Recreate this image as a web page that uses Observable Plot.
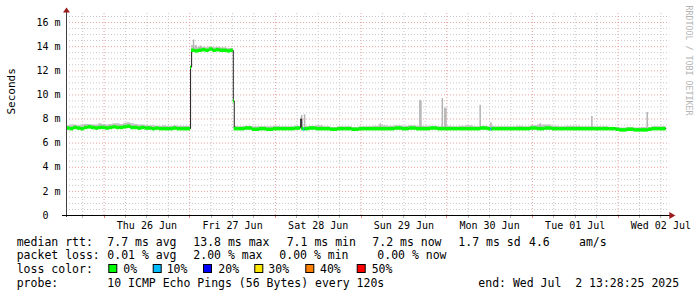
<!DOCTYPE html>
<html>
<head>
<meta charset="utf-8">
<script src="https://cdn.jsdelivr.net/npm/d3@7"></script>
<script src="https://cdn.jsdelivr.net/npm/@observablehq/plot@0.6"></script>
<style>
  html, body { margin: 0; padding: 0; background: #ffffff; }
  #chart svg { display: block; }
  #legend { display: block; }
</style>
</head>
<body>
<div id="chart"></div>
<script>
// ---------------- data ----------------
const startTime = "2025-06-25T13:28:25Z";
const endTime = "2025-07-02T13:28:25Z";
const gridEndTime = "2025-07-02T14:30:00Z";

// median RTT (ms) at hour offsets from start; value holds until next sample
const medHour = [0,1,2,3,4,5,6,7,8,9,10,11,12,13,14,15,16,17,18,19,20,21,22,23,24,25,26,27,28,29,30,31,32,33,
  34.76,35.05,36,37,38,39,40,41,42,43,44,45,46,46.73,47,48,50,52,54,56,58,60,62,64,65.6,65.9,66.5,66.8,
  68,70,72,74,76,78,80,82,84,86,88,90,92,94,96,98,100,102,104,106,108,110,112,114,116,118,118.9,119.2,
  120,122,124,126,128,130,132,134,136,138,140,142,144,146,148,150,152,154,155,157,159,161,163,164,166];
const medMs = [7.25,7.2,7.3,7.25,7.2,7.3,7.35,7.3,7.25,7.3,7.3,7.25,7.3,7.35,7.3,7.3,7.35,7.4,7.3,7.3,7.25,7.3,7.25,7.25,7.2,7.25,7.2,7.2,7.2,7.2,7.25,7.2,7.2,7.2,
  12.3,13.7,13.65,13.7,13.75,13.7,13.8,13.7,13.75,13.7,13.7,13.65,13.7,9.5,7.2,7.2,7.25,7.15,7.2,7.15,7.2,7.2,7.2,7.25,8.0,7.2,7.15,7.2,
  7.25,7.2,7.2,7.15,7.2,7.2,7.15,7.2,7.2,7.2,7.2,7.2,7.25,7.2,7.25,7.2,7.2,7.25,7.2,7.2,7.2,7.2,7.2,7.2,7.25,7.2,7.15,7.2,
  7.2,7.2,7.2,7.2,7.2,7.25,7.2,7.25,7.2,7.2,7.2,7.2,7.2,7.2,7.2,7.2,7.2,7.15,7.1,7.15,7.1,7.1,7.15,7.2,7.2];
// packet loss (%) per sample; null = no loss colour drawn
const medLoss = [0,0,0,0,0,0,0,0,0,0,0,0,0,0,0,0,0,0,0,0,0,0,0,0,0,0,0,0,0,0,0,0,0,0,
  0,0,0,0,0,0,0,0,0,0,0,0,0,0,0,0,0,0,0,0,0,0,0,0,null,0,10,0,
  0,0,0,0,0,0,0,0,0,0,0,0,0,0,0,0,0,0,0,0,0,0,0,0,0,0,10,0,
  0,0,0,0,0,0,0,0,0,0,0,0,0,0,0,0,0,0,0,0,0,0,0,0,0];
// top of the smoke (ms)
const smokeTop = [7.45,7.5,7.5,7.45,7.5,7.55,7.55,7.5,7.5,7.6,7.55,7.5,7.55,7.6,7.6,7.55,7.65,7.7,7.6,7.55,7.5,7.5,7.45,7.45,7.45,7.4,7.4,7.45,7.4,7.4,7.45,7.4,7.4,7.4,
  12.3,14.1,13.9,13.95,13.95,13.9,14.0,13.9,13.95,13.9,13.9,13.85,13.85,9.5,7.4,7.35,7.4,7.35,7.35,7.35,7.4,7.35,7.35,7.4,8.1,7.35,7.3,7.35,
  7.4,7.45,7.35,7.3,7.35,7.35,7.3,7.35,7.35,7.4,7.45,7.4,7.45,7.4,7.45,7.4,7.4,7.4,7.35,7.4,7.35,7.4,7.45,7.35,7.4,7.35,7.3,7.4,
  7.35,7.35,7.35,7.4,7.35,7.45,7.5,7.5,7.4,7.35,7.4,7.4,7.35,7.35,7.35,7.35,7.3,7.3,7.25,7.3,7.25,7.3,7.3,7.35,7.35];

// isolated smoke spikes
const spikeHour = [35.6,36.3,37.5,65.9,66.7,87.9,99.0,99.3,105.3,106.0,106.3,115.9,118.9,132.7,147.2,162.7];
const spikeLow  = [13.7,13.7,13.7,7.3,7.3,7.3,7.3,7.3,7.3,7.3,7.3,7.3,7.3,7.3,7.3,7.3];
const spikeTop  = [14.55,14.1,14.05,8.3,8.35,7.6,9.55,9.5,9.7,8.9,8.9,9.15,7.7,7.6,8.2,8.55];

const yTicks = [0,2,4,6,8,10,12,14,16];
const lossLevels = [0,10,20,30,40,50];
const lossColors = ["#00ff00","#00bbff","#0000ff","#ffe800","#ff8000","#ff0000"];

const legendLines = [
  [["median rtt:",16.7],["7.7 ms avg",107.3],["13.8 ms max",193.3],["7.1 ms min",286.7],["7.2 ms now",372.3],["1.7 ms sd",458.3],["4.6",529],["am/s",579]],
  [["packet loss:",16.7],["0.01 % avg",107.3],["2.00 % max",193.3],["0.00 % min",279.3],["0.00 % now",377.3]],
  [["loss color:",16.7]],
  [["probe:",16.7],["10 ICMP Echo Pings (56 Bytes) every 120s",107.3],["end: Wed Jul  2 13:28:25 2025",478.3]]
];
const lossBoxX = [108.3,152.7,203,254.3,305.3,356.7];
const lossLabelX = [123.3,166.7,218.3,268.3,320,371.7];

// ---------------- build ----------------
const t0 = new Date(startTime).getTime();
const tEnd = new Date(endTime);
const hourToDate = h => new Date(t0 + h * 3600e3);

const rows = medHour.map((h, i) => ({
  t: hourToDate(h),
  t2: i + 1 < medHour.length ? hourToDate(medHour[i + 1]) : tEnd,
  v: medMs[i], loss: medLoss[i], top: smokeTop[i]
}));
const lineRows = rows.concat([{t: tEnd, v: medMs[medMs.length - 1], top: smokeTop[smokeTop.length - 1]}]);
const spikes = spikeHour.map((h, i) => ({t: hourToDate(h), lo: spikeLow[i], hi: spikeTop[i]}));

const xDomain = [new Date(startTime), new Date(gridEndTime)];
const sixHour = d3.utcHour.every(6).range(xDomain[0], xDomain[1]);
const majorX = sixHour.filter(d => d.getUTCHours() === 0);
const minorX = sixHour.filter(d => d.getUTCHours() !== 0);
const noonX = sixHour.filter(d => d.getUTCHours() === 12);
const yMinor = d3.range(1, 34).map(k => k / 2).filter(v => v % 2 !== 0);
const yMajor = yTicks.filter(v => v > 0);

const lossColor = l => lossColors[lossLevels.indexOf(l)];

function axesMark(index, scales, values, dims) {
  const g = d3.create("svg:g");
  const xl = dims.marginLeft;
  const xr = dims.width - dims.marginRight;
  const yb = dims.height - dims.marginBottom;
  const yt = dims.marginTop;
  // tick marks below x axis
  for (const d of sixHour) {
    const x = Math.round(scales.x(d)) + 0.5;
    g.append("line").attr("x1", x).attr("x2", x).attr("y1", yb).attr("y2", yb + 3)
      .attr("stroke", d.getUTCHours() === 0 ? "#e08080" : "#b0b0b0");
  }
  const ax = Math.round(xl) + 0.5, ay = Math.round(yb) + 0.5;
  g.append("line").attr("x1", ax).attr("x2", ax).attr("y1", yb + 2).attr("y2", yt - 1)
    .attr("stroke", "#404040");
  g.append("line").attr("x1", xl - 4).attr("x2", xr + 1).attr("y1", ay).attr("y2", ay)
    .attr("stroke", "#000000");
  g.append("path").attr("d", `M${ax - 3.5},${yt - 0.5}L${ax + 3.5},${yt - 0.5}L${ax},${yt - 5.5}Z`)
    .attr("fill", "#9b1c1c");
  g.append("path").attr("d", `M${xr},${ay - 3.5}L${xr},${ay + 3.5}L${xr + 6},${ay}Z`)
    .attr("fill", "#9b1c1c");
  return g.node();
}

const chart = Plot.plot({
  width: 697,
  height: 232,
  marginLeft: 66,
  marginRight: 27.7,
  marginTop: 13,
  marginBottom: 17,
  style: {fontFamily: "'DejaVu Sans Mono', monospace", fontSize: "10px", background: "#ffffff", color: "#000000"},
  x: {type: "utc", domain: xDomain},
  y: {domain: [0, 16.75]},
  marks: [
    Plot.ruleY(yMinor, {stroke: "#c8c8c8", strokeDasharray: "1,2"}),
    Plot.ruleX(minorX, {stroke: "#c8c8c8", strokeDasharray: "1,2"}),
    Plot.ruleY(yMajor, {stroke: "#e8a0a0", strokeDasharray: "1,2"}),
    Plot.ruleX(majorX, {stroke: "#e8a0a0", strokeDasharray: "1,2"}),
    Plot.areaY(lineRows, {x: "t", y1: "v", y2: "top", curve: "step-after", fill: "#c4c4c4"}),
    Plot.ruleX(spikes, {x: "t", y1: "lo", y2: "hi", stroke: "#b4b4b4", strokeWidth: 1.5}),
    Plot.line(lineRows, {x: "t", y: "v", curve: "step-after", stroke: "#202020", strokeWidth: 1}),
    Plot.ruleY(rows.filter(r => r.loss !== null), {y: "v", x1: "t", x2: "t2", stroke: r => lossColor(r.loss), strokeWidth: 3.5}),
    Plot.axisY({ticks: yTicks, tickSize: 0, tickPadding: 6, label: null,
      tickFormat: d => d === 0 ? "0\u00a0\u00a0" : d + " m"}),
    Plot.axisX({ticks: noonX, tickSize: 0, tickPadding: 6, label: null,
      tickFormat: d3.utcFormat("%a %d %b")}),
    axesMark,
    Plot.text(["Seconds"], {frameAnchor: "left", dx: -55, rotate: -90, fontSize: 11, fill: "#000000"}),
    Plot.text(["RRDTOOL / TOBI OETIKER"], {frameAnchor: "top-right", dx: 21.7, dy: -8, rotate: 90,
      textAnchor: "start", fontSize: 8.3, fill: "#b4b4b4"})
  ]
});
document.getElementById("chart").appendChild(chart);

// ---------------- legend (below the plot) ----------------
const legend = d3.create("svg").attr("id", "legend").attr("width", 697).attr("height", 65)
  .style("font-family", "'DejaVu Sans Mono', monospace").style("font-size", "11.5px");
const baselines = [13.5, 27.2, 41, 54.7];
legendLines.forEach((line, li) => {
  for (const [txt, x] of line) {
    legend.append("text").attr("x", x).attr("y", baselines[li]).attr("fill", "#000")
      .style("white-space", "pre").text(txt);
  }
});
lossLevels.forEach((l, i) => {
  legend.append("rect").attr("x", lossBoxX[i] + 0.5).attr("y", baselines[2] - 8.5).attr("width", 8).attr("height", 8)
    .attr("fill", lossColors[i]).attr("stroke", "#000").attr("stroke-width", 1);
  legend.append("text").attr("x", lossLabelX[i]).attr("y", baselines[2]).attr("fill", "#000").text(l + "%");
});
document.body.appendChild(legend.node());
</script>
</body>
</html>
